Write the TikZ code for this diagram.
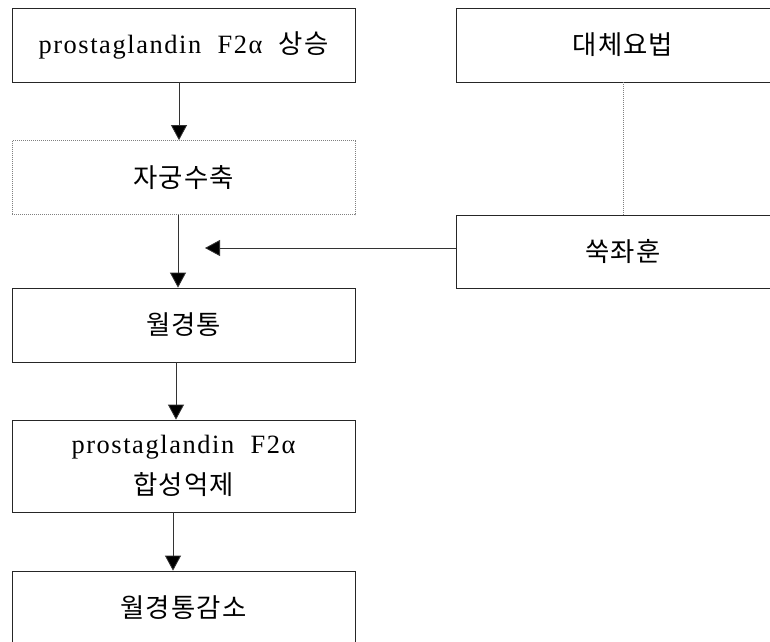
\documentclass[tikz,border=0pt]{standalone}
\usepackage{fontspec}
\setmainfont{Liberation Serif}[LetterSpace=6,WordSpace=2.0,Scale=1.1]
\newfontfamily\kr{Noto Sans CJK KR}[LetterSpace=4,Scale=1.1]
\usetikzlibrary{arrows.meta}

\begin{document}
\begin{tikzpicture}[x=1pt,y=-1pt]
	\tikzstyle{every node}+=[inner sep=0pt, font=\fontsize{24}{41}\selectfont]
	\tikzstyle{box}=[draw=black!85, line width=0.8pt, minimum width=343pt, minimum height=74pt]
	\tikzstyle{rbox}=[box, minimum width=334pt]
	\tikzstyle{arr}=[draw=black!80, line width=0.8pt, -{Triangle[width=16pt,length=15pt,fill=black]}]
	\useasboundingbox (0,0) rectangle (770,641);
	\clip (0,0) rectangle (770,641);
	% left column
	\node [box] (rise) at (183.5,45) {prostaglandin F2α {\kr 상승}};
	\node [box, draw=gray, dash pattern=on 1pt off 1pt] (contract) at (183.5,177.5) {\kr 자궁수축};
	\node [box] (pain) at (183.5,325) {\kr 월경통};
	\node [box, minimum height=92pt, align=center] (inhibit) at (183.5,466) {prostaglandin F2α\\{\kr 합성억제}};
	\node [box] (relief) at (183.5,608) {\kr 월경통감소};
	% right column
	\node [rbox] (alt) at (623,45) {\kr 대체요법};
	\node [rbox, minimum height=73pt] (sitz) at (623,251.5) {\kr 쑥좌훈};
	\coordinate (tip) at (205,248);
	% connectors
	\draw [arr] ([xshift=-4.5pt]rise.south) -- ([xshift=-4.5pt]contract.north);
	\draw [arr] ([xshift=-5.5pt]contract.south) -- ([xshift=-5.5pt]pain.north);
	\draw [arr] ([xshift=-7.5pt]pain.south) -- ([xshift=-7.5pt]inhibit.north);
	\draw [arr] ([xshift=-10.5pt]inhibit.south) -- ([xshift=-10.5pt]relief.north);
	\draw [arr] (sitz.west |- tip) -- (tip);
	\draw [gray, line width=0.8pt, dash pattern=on 1pt off 1pt] (alt.south) -- (sitz.north);
\end{tikzpicture}
\end{document}
